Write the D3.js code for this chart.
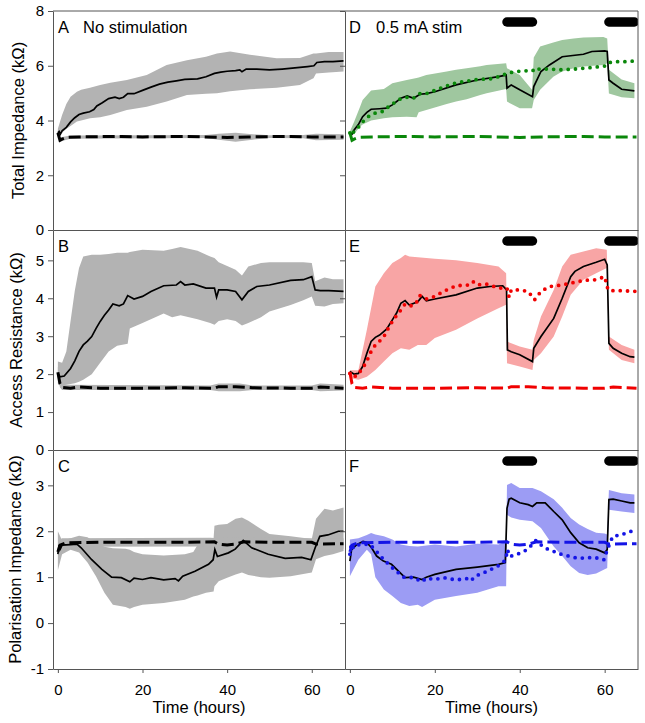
<!DOCTYPE html>
<html><head><meta charset="utf-8">
<script src="https://cdn.jsdelivr.net/npm/d3@7/dist/d3.min.js"></script>
<style>body{margin:0;background:#fff} text{font-family:"Liberation Sans",Arial,Helvetica,sans-serif;fill:#000}</style>
</head><body><svg id="c" width="645" height="723"></svg>
<script>
// ---------------- DATA ----------------
const xTicks = [0, 20, 40, 60];
const stimPeriods = [[37, 43], [61, 67]];
const panelLetters = ["A", "B", "C", "D", "E", "F"];
const colTitles = ["No stimulation", "0.5 mA stim"];
const rowTitles = ["Total Impedance (kΩ)", "Access Resistance (kΩ)", "Polarisation Impedance (kΩ)"];
const yTicksTotal = [0, 2, 4, 6, 8];
const yTicksAccess = [0, 1, 2, 3, 4, 5];
const yTicksPol = [-1, 0, 1, 2, 3];

// Total impedance, no stimulation: mean [t, v], band [t, lo, hi]
const totalCtrlMean = [[0,3.55],[0.3,3.6],[0.6,3.5],[1,3.62],[2,3.75],[3,3.95],[4,4.1],[5,4.22],[6,4.27],[7.5,4.32],[8.5,4.4],[9.2,4.53],[10.5,4.65],[12,4.8],[13.5,4.85],[14.5,4.8],[15.5,4.85],[16.5,4.98],[18,4.98],[20,5.1],[22,5.22],[24,5.33],[26,5.4],[28,5.45],[30,5.5],[33,5.52],[35,5.6],[37,5.72],[38.5,5.77],[40,5.8],[42,5.82],[43,5.85],[43.5,5.78],[44.5,5.88],[47,5.88],[50,5.85],[53,5.88],[56,5.92],[59,5.97],[60.5,6.0],[61.2,6.12],[63,6.15],[65,6.15],[67.5,6.18]];
const totalCtrlBand = [[0,3.45,3.7],[1,3.55,4.2],[2,3.7,4.6],[3,3.8,4.87],[4.5,3.96,5.05],[5.5,4.0,5.12],[7.6,4.08,5.2],[10,4.12,5.3],[12.4,4.2,5.38],[16.3,4.38,5.48],[21,4.5,5.66],[25.7,4.69,6.03],[30.5,4.93,6.2],[35,4.98,6.33],[37.6,5.0,6.45],[40.7,5.07,6.52],[45.4,5.14,6.4],[51.7,5.2,6.27],[57.2,5.3,6.28],[60.4,5.54,6.45],[61,5.72,6.45],[64,5.75,6.5],[67.5,5.79,6.5]];
const totalRefMean = [[0,3.55],[0.5,3.28],[1,3.32],[2,3.38],[5,3.4],[15,3.42],[20,3.4],[30,3.42],[40,3.38],[45,3.4],[55,3.42],[60,3.4],[67.5,3.4]];
const totalRefBand = [[0,3.45,3.6],[0.5,3.22,3.4],[1,3.25,3.4],[3,3.33,3.45],[35,3.36,3.47],[38,3.3,3.52],[42,3.22,3.55],[46,3.3,3.5],[50,3.36,3.46],[58,3.35,3.47],[61,3.28,3.52],[67.5,3.3,3.5]];

// Access resistance, no stimulation
const accessCtrlMean = [[0,2.02],[0.5,1.93],[1.5,1.95],[3,2.15],[4,2.35],[5,2.6],[6,2.77],[7,2.87],[8,2.99],[9,3.2],[10,3.39],[11,3.55],[12,3.69],[13,3.85],[14.5,3.8],[15.5,3.85],[16.5,4.07],[18,3.98],[20,4.05],[22,4.18],[25,4.33],[28,4.35],[29,4.44],[30,4.35],[32,4.38],[35,4.27],[37,4.27],[37.5,4.03],[38,4.22],[40,4.22],[42,4.18],[43.5,3.96],[45,4.18],[47,4.31],[50,4.35],[55,4.47],[58,4.49],[60,4.57],[60.8,4.22],[62,4.2],[64,4.2],[67.5,4.18]];
const accessCtrlBand = [[0,1.75,2.33],[1,1.7,2.3],[2,1.72,2.6],[3,1.74,3.4],[4,1.76,4.2],[5,1.8,4.8],[6,1.85,5.1],[8,2.0,5.15],[10,2.3,5.15],[12,2.6,5.17],[14,2.75,5.2],[16.5,2.8,5.2],[17,3.2,5.22],[20,3.35,5.28],[25,3.6,5.25],[27,3.5,5.3],[29,3.55,5.35],[33,3.45,5.25],[36,3.35,5.1],[37,3.3,5.06],[38,3.4,4.95],[40,3.45,4.85],[42,3.4,4.75],[43.5,3.28,4.6],[45,3.35,4.84],[48,3.5,4.93],[50,3.65,4.95],[55,3.82,4.95],[58,3.95,4.95],[60,4.05,4.93],[60.8,3.8,4.45],[63,3.78,4.55],[65,3.85,4.5],[67.5,3.87,4.5]];
const accessRefMean = [[0,2.05],[0.5,1.75],[1,1.65],[3,1.63],[5,1.66],[10,1.63],[20,1.63],[30,1.64],[37,1.63],[38,1.67],[42,1.67],[46,1.64],[55,1.63],[60,1.63],[62,1.66],[67.5,1.63]];
const accessRefBand = [[0,1.9,2.2],[0.5,1.65,1.85],[1,1.58,1.72],[36,1.58,1.7],[38,1.55,1.75],[43,1.55,1.75],[46,1.58,1.7],[60,1.58,1.7],[62,1.55,1.75],[67.5,1.57,1.72]];

// Polarisation impedance, no stimulation
const polCtrlMean = [[0,1.5],[0.3,1.7],[0.6,1.62],[1,1.7],[3,1.71],[4.5,1.72],[5.5,1.64],[8,1.38],[10.4,1.17],[12.7,1.0],[15,0.99],[17,0.9],[18,0.98],[20,0.95],[22,0.99],[25,0.94],[27.7,0.97],[28.5,0.92],[29.5,1.02],[32.4,1.13],[35.6,1.28],[36.7,1.38],[37.1,1.6],[37.7,1.45],[40.3,1.53],[41.9,1.61],[43.8,1.8],[45.8,1.64],[49.7,1.5],[53.7,1.41],[57.6,1.43],[59.8,1.38],[60.8,1.64],[61.9,1.89],[63.8,1.92],[66.3,2.0],[67.5,2.0]];
const polCtrlBand = [[0,1.15,2.0],[1,1.5,1.8],[3,1.6,1.85],[5,1.54,1.9],[7,1.32,1.87],[9,1.02,1.75],[11,0.66,1.66],[13,0.4,1.63],[16,0.35,1.62],[17,0.31,1.6],[18,0.35,1.55],[20,0.4,1.5],[25,0.44,1.47],[30,0.51,1.5],[32,0.58,1.55],[33,0.6,1.7],[35,0.66,1.82],[36.8,0.69,1.85],[37,0.8,2.12],[38,0.91,2.14],[40,0.99,2.16],[42,1.06,2.27],[43.5,1.1,2.3],[45,1.05,2.23],[48,1.0,2.05],[50,0.99,1.94],[55,1.02,1.89],[60,1.1,1.83],[61,1.39,2.27],[63,1.46,2.49],[65,1.5,2.45],[67.5,1.57,2.52]];
const polRefMean = [[0,1.55],[0.5,1.7],[2,1.75],[10,1.76],[20,1.76],[30,1.76],[37,1.77],[38,1.72],[40,1.7],[42,1.72],[44,1.77],[50,1.76],[60,1.76],[61,1.72],[67.5,1.73]];
const polRefBand = [[0,1.5,1.65],[0.5,1.62,1.82],[1,1.66,1.85],[36,1.67,1.86],[38,1.6,1.85],[44,1.62,1.88],[48,1.67,1.86],[60,1.67,1.85],[61,1.6,1.85],[67.5,1.62,1.85]];

// 0.5 mA stimulation
const totalStimMean = [[0,3.53],[0.5,3.5],[1,3.65],[2,3.85],[3,4.14],[4,4.3],[5,4.41],[7,4.43],[8.6,4.45],[10,4.57],[12,4.81],[13.5,4.9],[15,4.81],[16.5,4.96],[18,4.98],[20,5.05],[25,5.3],[30,5.48],[35,5.6],[36.8,5.66],[37,5.18],[38,5.3],[40,5.12],[43,4.87],[43.3,5.24],[45,5.79],[47,6.03],[50,6.33],[55,6.42],[57,6.52],[60,6.54],[60.6,6.52],[61,5.48],[62,5.36],[64,5.14],[67,5.08]];
const totalStimBand = [[0,3.45,3.6],[1,3.5,3.95],[2.4,3.78,4.5],[3,3.85,4.75],[5,4.0,5.1],[8,4.08,5.15],[10,4.12,5.36],[13.4,4.14,5.48],[15.7,4.12,5.55],[16.2,4.3,5.57],[18,4.38,5.66],[22.8,4.6,5.79],[25,4.69,5.85],[27.5,4.78,5.91],[30.7,4.93,5.98],[32.2,5.0,6.03],[36.8,5.15,6.09],[37,4.69,5.91],[40,4.45,5.66],[42.9,4.45,5.12],[43.3,4.75,6.3],[44.8,5.12,6.7],[47.9,5.6,6.85],[50,5.79,6.94],[52.7,5.91,7.0],[55,5.97,7.03],[59.7,6.03,7.05],[60.6,6.09,7.0],[61,4.99,5.85],[64,4.85,5.5],[67,4.81,5.36]];
const accessStimMean = [[0,2.07],[1,2.0],[2,2.02],[3,2.2],[4,2.55],[5,2.86],[6,2.97],[7,3.03],[8.5,3.17],[9,3.25],[10,3.43],[11,3.61],[12,3.87],[13,3.94],[14,3.82],[16,3.91],[17,4.05],[18,3.93],[20,3.98],[25,4.09],[30,4.27],[33,4.31],[36,4.33],[36.9,4.22],[37.1,2.64],[38,2.59],[40,2.51],[43,2.33],[43.3,2.68],[45,2.99],[48,3.47],[50,4.0],[52,4.57],[53,4.71],[55,4.84],[58,4.95],[60,5.03],[60.6,4.88],[61,2.81],[62,2.68],[64,2.55],[66,2.46],[67,2.45]];
const accessStimBand = [[0,1.9,2.1],[2,1.85,2.1],[4,1.93,3.17],[6,2.11,4.31],[8,2.33,4.66],[10,2.55,4.93],[12,2.68,5.06],[13,2.66,5.15],[14,2.64,5.1],[16,2.77,5.08],[18,2.77,5.06],[20,2.95,5.04],[25,3.17,5.0],[30,3.47,4.93],[35,3.74,4.84],[36.8,3.83,4.66],[37,2.29,2.86],[40,2.2,2.73],[43,2.11,2.64],[43.3,2.37,2.9],[45,2.55,3.52],[48,2.99,4.22],[50,3.52,4.84],[52,4.09,5.15],[55,4.49,5.23],[58,4.66,5.32],[60.5,4.8,5.28],[61,2.64,2.99],[64,2.37,2.77],[67,2.29,2.64]];
const polStimMean = [[0,1.35],[0.4,1.6],[1.5,1.7],[3.1,1.78],[3.9,1.76],[5.1,1.64],[6.3,1.46],[7.9,1.35],[9.8,1.28],[11.8,1.1],[13,0.99],[15,1.0],[17,0.95],[18,1.0],[20,1.06],[25,1.17],[30,1.22],[35,1.28],[36.6,1.32],[37,2.5],[37.5,2.7],[38,2.72],[40,2.62],[42,2.58],[43,2.54],[44,2.62],[46,2.62],[48,2.43],[50,2.25],[52,1.97],[54,1.75],[56,1.64],[58,1.61],[60,1.53],[60.6,1.6],[61,2.69],[62,2.7],[64,2.66],[66,2.62],[67,2.62]];
const polStimBand = [[0,1.02,1.82],[2,1.38,1.85],[4,1.6,1.92],[5,1.5,1.96],[6,1.0,1.93],[8,0.73,1.89],[10,0.59,1.82],[12,0.44,1.71],[14,0.37,1.68],[16,0.4,1.67],[17,0.35,1.68],[20,0.51,1.71],[25,0.59,1.67],[30,0.66,1.73],[35,0.8,1.71],[36.8,0.8,1.78],[37,2.36,3.01],[38,2.3,3.05],[40,2.25,2.94],[43,2.22,2.94],[45,2.07,2.87],[48,1.67,2.7],[50,1.46,2.51],[52,1.24,2.29],[54,1.09,2.15],[56,1.05,2.05],[58,1.08,1.97],[60,1.17,1.95],[60.6,1.2,1.93],[61,2.47,2.9],[64,2.43,2.83],[67,2.4,2.8]];

// ---------------- LAYOUT ----------------
const svg = d3.select("#c");
const xDomain = [-1.15, 67.85];
const cols = [[53, 345], [345, 638]];
const rows = [
  {top: 11, bottom: 230, domain: [0, 8], ticks: yTicksTotal, titleX: 24,
   ctrl: [totalCtrlMean, totalCtrlBand, totalRefMean, totalRefBand], stim: [totalStimMean, totalStimBand],
   color: "#0a870a", band: "#9fc79f"},
  {top: 230, bottom: 450, domain: [0, 5.8], ticks: yTicksAccess, titleX: 22,
   ctrl: [accessCtrlMean, accessCtrlBand, accessRefMean, accessRefBand], stim: [accessStimMean, accessStimBand],
   color: "#f00000", band: "#f8a5a5"},
  {top: 450, bottom: 669, domain: [-1, 3.77], ticks: yTicksPol, titleX: 20.5,
   ctrl: [polCtrlMean, polCtrlBand, polRefMean, polRefBand], stim: [polStimMean, polStimBand],
   color: "#1414e6", band: "#9c9cf4"}
];
const GRAY = "#b3b3b3", AX = "#555";

rows.forEach((r, ri) => {
  const y = d3.scaleLinear().domain(r.domain).range([r.bottom, r.top]);
  cols.forEach((c, ci) => {
    const x = d3.scaleLinear().domain(xDomain).range(c);
    const id = "clip" + ri + ci;
    svg.append("clipPath").attr("id", id).append("rect")
      .attr("x", c[0]).attr("y", r.top).attr("width", c[1] - c[0]).attr("height", r.bottom - r.top);
    const g = svg.append("g").attr("clip-path", `url(#${id})`);
    const area = d3.area().x(d => x(d[0])).y0(d => y(d[1])).y1(d => y(d[2]));
    const line = d3.line().x(d => x(d[0])).y(d => y(d[1]));
    if (ci === 0) {
      const [m, b, rm, rb] = r.ctrl;
      g.append("path").attr("d", area(b)).attr("fill", GRAY);
      g.append("path").attr("d", area(rb)).attr("fill", GRAY);
      g.append("path").attr("d", line(m)).attr("fill", "none").attr("stroke", "#000").attr("stroke-width", 1.7);
      g.append("path").attr("d", line(rm)).attr("fill", "none").attr("stroke", "#000").attr("stroke-width", 3)
        .attr("stroke-dasharray", "12,5");
    } else {
      const [m, b] = r.stim;
      const [cm, , rm] = r.ctrl;
      g.append("path").attr("d", area(b)).attr("fill", r.band);
      g.append("path").attr("d", line(m)).attr("fill", "none").attr("stroke", "#000").attr("stroke-width", 1.7);
      g.append("path").attr("d", line(cm)).attr("fill", "none").attr("stroke", r.color).attr("stroke-width", 3.8)
        .attr("stroke-linecap", "round").attr("stroke-dasharray", "0,7.3");
      g.append("path").attr("d", line(rm)).attr("fill", "none").attr("stroke", r.color).attr("stroke-width", 3)
        .attr("stroke-dasharray", "12,5");
      stimPeriods.forEach(p => {
        g.append("line").attr("x1", x(p[0])).attr("x2", x(p[1]))
          .attr("y1", r.top + 11).attr("y2", r.top + 11)
          .attr("stroke", "#000").attr("stroke-width", 9.5).attr("stroke-linecap", "round");
      });
    }
    // y axis
    const ax = d3.axisLeft(y).tickValues(r.ticks).tickSize(5).tickSizeOuter(0).tickPadding(4)
      .tickFormat(ci === 0 ? (d => String(d)) : "");
    const ga = svg.append("g").attr("transform", `translate(${c[0]},0)`).call(ax);
    ga.selectAll("line,path").attr("stroke", AX);
    ga.selectAll("text").attr("font-size", 15).attr("font-family", '"Liberation Sans",Arial,sans-serif').attr("fill", "#000");
    // bottom axis
    const bx = d3.axisBottom(x).tickValues(ri === 2 ? xTicks : []).tickSize(ri === 2 ? 4 : 0).tickSizeOuter(0).tickPadding(11);
    const gb = svg.append("g").attr("transform", `translate(0,${r.bottom})`).call(bx);
    gb.selectAll("line,path").attr("stroke", AX);
    gb.selectAll("text").attr("font-size", 15).attr("font-family", '"Liberation Sans",Arial,sans-serif').attr("fill", "#000");
    // panel letter
    const lx = c[0] + (ci === 0 ? 5 : 4);
    svg.append("text").attr("x", lx).attr("y", r.top + 21.5).attr("font-size", 16.5).text(panelLetters[ci * 3 + ri]);
    if (ri === 0) {
      svg.append("text").attr("x", c[0] + (ci === 0 ? 30 : 31)).attr("y", r.top + 21.5).attr("font-size", 16.5).text(colTitles[ci]);
    }
    if (ri === 2) {
      svg.append("text").attr("x", (c[0] + c[1]) / 2).attr("y", 713).attr("text-anchor", "middle")
        .attr("font-size", 16.5).text("Time (hours)");
    }
  });
  svg.append("text").attr("transform", `translate(${r.titleX},${(r.top + r.bottom) / 2}) rotate(-90)`)
    .attr("text-anchor", "middle").attr("font-size", 16.5).text(rowTitles[ri]);
});
// outer frame (top and right borders)
svg.append("path").attr("d", `M53,11H638V669`).attr("fill", "none").attr("stroke", AX);
</script></body></html>
